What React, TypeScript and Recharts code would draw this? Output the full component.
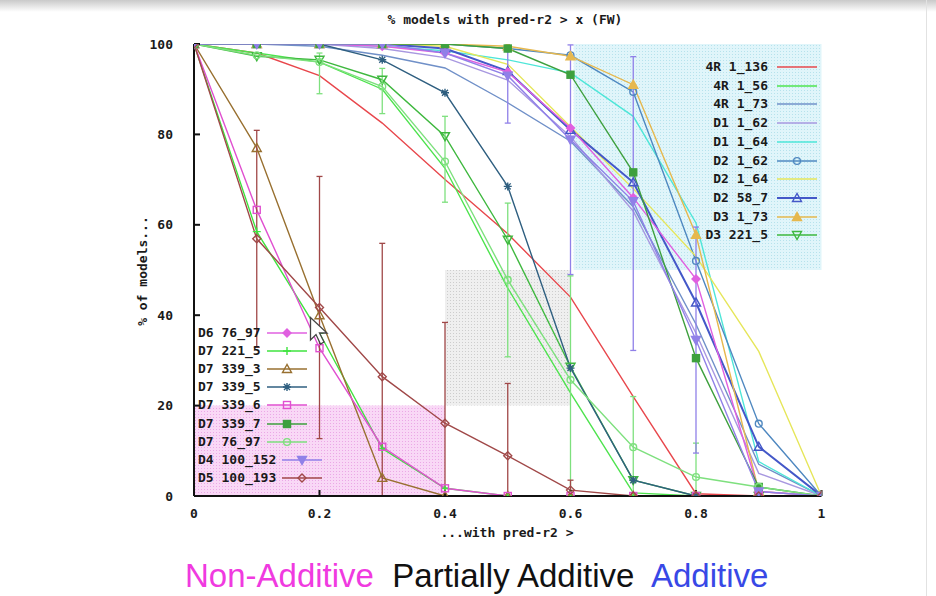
import { LineChart, Line, XAxis, YAxis, ReferenceArea, ErrorBar } from "recharts";

const xs = [0, 0.1, 0.2, 0.3, 0.4, 0.5, 0.6, 0.7, 0.8, 0.9, 1];
const xTicks = [0, 0.2, 0.4, 0.6, 0.8, 1];
const yTicks = [0, 20, 40, 60, 80, 100];

// % of models with pred-r2 above each threshold
const r4_136 = [100, 98, 93, 82.5, 70, 58, 44, 22, 0.5, 0, 0];
const r4_56 = [100, 98, 96, 90, 72.5, 46, 22.8, 0.7, 0, 0, 0];
const r4_73 = [100, 100, 99.5, 97.5, 94.7, 87, 78.5, 64, 38, 7, 0];
const d1_62 = [100, 100, 100, 99, 97, 92, 79.5, 63, 36, 5, 0];
const d1_64 = [100, 100, 100, 99.5, 98.5, 96.5, 93.6, 84, 60.4, 7.6, 0];
const d2_62 = [100, 100, 100, 100, 100, 99, 97.5, 89.4, 52, 16, 0];
const d2_64 = [100, 100, 100, 100, 99.5, 95.5, 81.7, 68, 53, 32, 0];
const d2_58_7 = [100, 100, 100, 100, 99, 94, 81, 69.4, 42.8, 10.9, 0];
const d3_1_73 = [100, 100, 100, 100, 100, 99.5, 97.3, 91, 57.8, 1, 0];
const d3_221_5 = [100, 97.3, 96.5, 92.1, 79.6, 56.7, 28.6, 3.5, 0, 0, 0];
const d6_76_97 = [100, 100, 100, 99.5, 98, 93.8, 81.4, 66, 48, 1, 0];
const d7_221_5 = [100, 58.5, 36, 10.5, 1.7, 0, 0, 0, 0, 0, 0];
const d7_339_3 = [100, 77, 40, 4, 0, 0, 0, 0, 0, 0, 0];
const d7_339_5 = [100, 100, 100, 96.5, 89.2, 68.5, 28.3, 3.5, 0, 0, 0];
const d7_339_6 = [100, 63.3, 32.7, 10.9, 1.7, 0, 0, 0, 0, 0, 0];
const d7_339_7 = [100, 100, 100, 100, 100, 99, 93.2, 71.6, 30.5, 2, 0];
const d7_76_97 = [100, 97.5, 96, 90.6, 74, 47.8, 25.7, 10.8, 4.2, 2, 0];
const d4_100_152 = [100, 100, 100, 100, 98, 93, 78.8, 65.2, 34.5, 1, 0];
const d5_100_193 = [100, 56.9, 41.7, 26.4, 16.1, 8.9, 1.3, 0, 0, 0, 0];

// error bars as [down, up]
const d7_76_97Err = [null, null, [7, 2], [6, 4], [9, 10], [17, 17], [25.7, 23], [10.8, 11.2], [4.2, 7.5], null, null];
const d4_100_152Err = [null, null, null, null, null, [10.5, 5.4], [29.8, 21], [33, 32], [25, 25], null, null];
const d5_100_193Err = [null, [24, 24], [29, 29], [26.4, 29.5], [16.1, 22.3], [8.9, 16], [1.3, 2.2], null, null, null, null];

type Kind = "circle" | "tri" | "triF" | "triDown" | "triDownF" | "diamond" | "diamondF" | "plus" | "star" | "square" | "squareF" | null;

type Series = {
  key: string;
  name: string;
  values: number[];
  color: string;
  mark: Kind;
  width?: number;
  err?: (number[] | null)[];
};

const series: Series[] = [
  { key: "s0", name: "4R 1_136", values: r4_136, color: "#e8474c", mark: null },
  { key: "s1", name: "4R 1_56", values: r4_56, color: "#4ee34e", mark: null },
  { key: "s2", name: "4R 1_73", values: r4_73, color: "#7090c8", mark: null },
  { key: "s3", name: "D1 1_62", values: d1_62, color: "#a898e0", mark: null },
  { key: "s4", name: "D1 1_64", values: d1_64, color: "#4ee6d8", mark: null },
  { key: "s5", name: "D2 1_62", values: d2_62, color: "#4f88c0", mark: "circle" },
  { key: "s6", name: "D2 1_64", values: d2_64, color: "#e6e65a", mark: null },
  { key: "s7", name: "D2 58_7", values: d2_58_7, color: "#4458c8", mark: "tri", width: 2 },
  { key: "s8", name: "D3 1_73", values: d3_1_73, color: "#e6b84e", mark: "triF" },
  { key: "s9", name: "D3 221_5", values: d3_221_5, color: "#3fb83f", mark: "triDown" },
  { key: "s10", name: "D6 76_97", values: d6_76_97, color: "#e060e0", mark: "diamondF" },
  { key: "s11", name: "D7 221_5", values: d7_221_5, color: "#3fe33f", mark: "plus" },
  { key: "s12", name: "D7 339_3", values: d7_339_3, color: "#987030", mark: "tri" },
  { key: "s13", name: "D7 339_5", values: d7_339_5, color: "#2f5f80", mark: "star" },
  { key: "s14", name: "D7 339_6", values: d7_339_6, color: "#e050d0", mark: "square" },
  { key: "s15", name: "D7 339_7", values: d7_339_7, color: "#3ea03e", mark: "squareF" },
  { key: "s16", name: "D7 76_97", values: d7_76_97, color: "#7ee07e", mark: "circle", err: d7_76_97Err },
  { key: "s17", name: "D4 100_152", values: d4_100_152, color: "#9080e8", mark: "triDownF", err: d4_100_152Err },
  { key: "s18", name: "D5 100_193", values: d5_100_193, color: "#a04848", mark: "diamond", err: d5_100_193Err },
];

const rows = xs.map((x, i) => {
  const row: Record<string, any> = { x };
  series.forEach((s) => {
    row[s.key] = s.values[i];
    if (s.err) row[s.key + "e"] = s.err[i];
  });
  return row;
});

const mono = "'DejaVu Sans Mono', 'Liberation Mono', monospace";
const lineW = 1.4;

function Mark({ cx, cy, kind, color }: { cx: number; cy: number; kind: Kind; color: string }) {
  const sw = 1.4;
  switch (kind) {
    case "circle":
      return <circle cx={cx} cy={cy} r={3.4} fill="none" stroke={color} strokeWidth={sw} />;
    case "tri":
    case "triF":
      return (
        <polygon
          points={`${cx},${cy - 4.5} ${cx - 4.5},${cy + 3.5} ${cx + 4.5},${cy + 3.5}`}
          fill={kind === "triF" ? color : "none"}
          stroke={color}
          strokeWidth={sw}
        />
      );
    case "triDown":
    case "triDownF":
      return (
        <polygon
          points={`${cx},${cy + 4.5} ${cx - 4.5},${cy - 3.5} ${cx + 4.5},${cy - 3.5}`}
          fill={kind === "triDownF" ? color : "none"}
          stroke={color}
          strokeWidth={sw}
        />
      );
    case "diamond":
    case "diamondF":
      return (
        <polygon
          points={`${cx},${cy - 4} ${cx + 4},${cy} ${cx},${cy + 4} ${cx - 4},${cy}`}
          fill={kind === "diamondF" ? color : "none"}
          stroke={color}
          strokeWidth={sw}
        />
      );
    case "square":
    case "squareF":
      return (
        <rect
          x={cx - 3.5}
          y={cy - 3.5}
          width={7}
          height={7}
          fill={kind === "squareF" ? color : "none"}
          stroke={color}
          strokeWidth={sw}
        />
      );
    case "plus":
      return (
        <path d={`M${cx - 4},${cy}H${cx + 4}M${cx},${cy - 4}V${cy + 4}`} stroke={color} strokeWidth={sw} />
      );
    case "star":
      return (
        <path
          d={`M${cx - 4},${cy}H${cx + 4}M${cx},${cy - 4}V${cy + 4}M${cx - 3},${cy - 3}L${cx + 3},${cy + 3}M${cx - 3},${cy + 3}L${cx + 3},${cy - 3}`}
          stroke={color}
          strokeWidth={sw}
        />
      );
    default:
      return null;
  }
}

function Sample({ s }: { s: Series }) {
  return (
    <svg width={40} height={10} style={{ display: "block", overflow: "visible" }}>
      <line x1={0} y1={5} x2={40} y2={5} stroke={s.color} strokeWidth={s.width ?? lineW} />
      {s.mark && <Mark cx={20} cy={5} kind={s.mark} color={s.color} />}
    </svg>
  );
}

const textStyle: React.CSSProperties = {
  fontFamily: mono,
  fontWeight: "bold",
  fontSize: 13,
  color: "#1a1a1a",
  lineHeight: "14px",
  whiteSpace: "pre",
};

const dots = (id: string, bg: string, dot: string) => (
  <pattern id={id} width={3} height={3} patternUnits="userSpaceOnUse">
    <rect width={3} height={3} fill={bg} />
    <rect width={1} height={1} fill={dot} />
  </pattern>
);

export default function App() {
  const tick = { fill: "#1a1a1a", fontFamily: mono, fontSize: 13, fontWeight: "bold" };
  return (
    <div
      style={{
        position: "fixed",
        left: 0,
        top: 0,
        width: 936,
        height: 596,
        background: "#fff",
        overflow: "hidden",
      }}
    >
      <div
        style={{
          position: "absolute",
          left: 0,
          top: 0,
          width: 936,
          height: 12,
          background: "linear-gradient(#c9c9c9, #ffffff)",
        }}
      />
      <div style={{ position: "absolute", left: 926, top: 0, width: 1, height: 596, background: "#e2e2e2" }} />
      <div style={{ position: "absolute", left: 0, top: 0 }}>
        <LineChart width={936} height={596} data={rows} margin={{ top: 44, right: 114.5, left: 154, bottom: 70 }}>
          <defs>
            {dots("cyanDots", "#e0f5fa", "#b6e2ec")}
            {dots("greyDots", "#efefef", "#cdcdcd")}
            {dots("pinkDots", "#f9d8f6", "#eba8e6")}
          </defs>
          <XAxis
            type="number"
            dataKey="x"
            domain={[0, 1]}
            ticks={xTicks}
            allowDataOverflow
            tickFormatter={(v) => String(v)}
            tick={tick}
            tickSize={-6}
            tickMargin={19}
            height={30}
            stroke="#111"
            strokeWidth={2}
          />
          <XAxis
            xAxisId="top"
            orientation="top"
            type="number"
            domain={[0, 1]}
            ticks={xTicks}
            allowDataOverflow
            tick={false}
            tickSize={-6}
            height={0}
            stroke="#333"
            strokeWidth={1.5}
          />
          <YAxis
            type="number"
            domain={[0, 100]}
            ticks={yTicks}
            allowDataOverflow
            tick={tick}
            tickSize={-6}
            tickMargin={27}
            width={40}
            stroke="#111"
            strokeWidth={2}
          />
          <YAxis
            yAxisId="right"
            orientation="right"
            type="number"
            domain={[0, 100]}
            ticks={yTicks}
            allowDataOverflow
            tick={false}
            tickSize={-6}
            width={0}
            stroke="#333"
            strokeWidth={1.5}
          />
          <ReferenceArea x1={0.605} x2={1} y1={50} y2={100} fill="url(#cyanDots)" fillOpacity={1} stroke="none" />
          <ReferenceArea x1={0.4} x2={0.6} y1={20} y2={50} fill="url(#greyDots)" fillOpacity={1} stroke="none" />
          <ReferenceArea x1={0} x2={0.4} y1={0} y2={20} fill="url(#pinkDots)" fillOpacity={1} stroke="none" />
          {series.map((s) => (
            <Line
              key={s.key}
              type="linear"
              dataKey={s.key}
              name={s.name}
              stroke={s.color}
              strokeWidth={s.width ?? lineW}
              isAnimationActive={false}
              activeDot={false}
              dot={
                s.mark
                  ? (p: any) => <Mark key={`${s.key}-${p.index}`} cx={p.cx} cy={p.cy} kind={s.mark} color={s.color} />
                  : false
              }
            >
              {s.err && (
                <ErrorBar dataKey={s.key + "e"} direction="y" width={3} stroke={s.color} strokeWidth={1.3} />
              )}
            </Line>
          ))}
        </LineChart>
      </div>

      {/* title and axis labels */}
      <div style={{ ...textStyle, position: "absolute", left: 355, width: 300, top: 13, textAlign: "center" }}>
        % models with pred-r2 &gt; x (FW)
      </div>
      <div style={{ ...textStyle, position: "absolute", left: 357, width: 300, top: 526, textAlign: "center" }}>
        ...with pred-r2 &gt;
      </div>
      <div
        style={{
          ...textStyle,
          position: "absolute",
          left: 143 - 75,
          width: 150,
          top: 271 - 7,
          textAlign: "center",
          transform: "rotate(-90deg)",
        }}
      >
        % of models...
      </div>

      {/* key, upper right */}
      {series.slice(0, 10).map((s, i) => (
        <div key={s.key} style={{ position: "absolute", top: 67 + i * 18.7 - 7, left: 640, height: 14 }}>
          <div style={{ ...textStyle, position: "absolute", right: -128, width: 200, textAlign: "right" }}>
            {s.name}
          </div>
          <div style={{ position: "absolute", left: 137, top: 2 }}>
            <Sample s={s} />
          </div>
        </div>
      ))}

      {/* key, lower left */}
      {series.slice(10).map((s, i) => (
        <div
          key={s.key}
          style={{
            position: "absolute",
            top: 333 + i * 18.1 - 7,
            left: 198,
            display: "flex",
            alignItems: "center",
            height: 14,
          }}
        >
          <span style={textStyle}>{s.name}</span>
          <span style={{ marginLeft: 6 }}>
            <Sample s={s} />
          </span>
        </div>
      ))}

      {/* pointer */}
      <svg style={{ position: "absolute", left: 309, top: 316 }} width={24} height={32}>
        <polygon
          points="1.5,1.5 1.5,24 7,18.5 11.5,28 15,26 10.5,17 18,17"
          fill="#fff"
          stroke="#444"
          strokeWidth={1.3}
        />
      </svg>

      {/* group labels */}
      <div
        style={{
          position: "absolute",
          top: 559,
          left: 185,
          fontFamily: "'Liberation Sans', Arial, sans-serif",
          fontSize: 33,
          lineHeight: "33px",
          whiteSpace: "pre",
        }}
      >
        <span style={{ color: "#f03ae0" }}>Non-Additive</span>
        <span style={{ color: "#111" }}>  Partially Additive</span>
        <span style={{ color: "#3848e6" }}>  Additive</span>
      </div>
    </div>
  );
}
